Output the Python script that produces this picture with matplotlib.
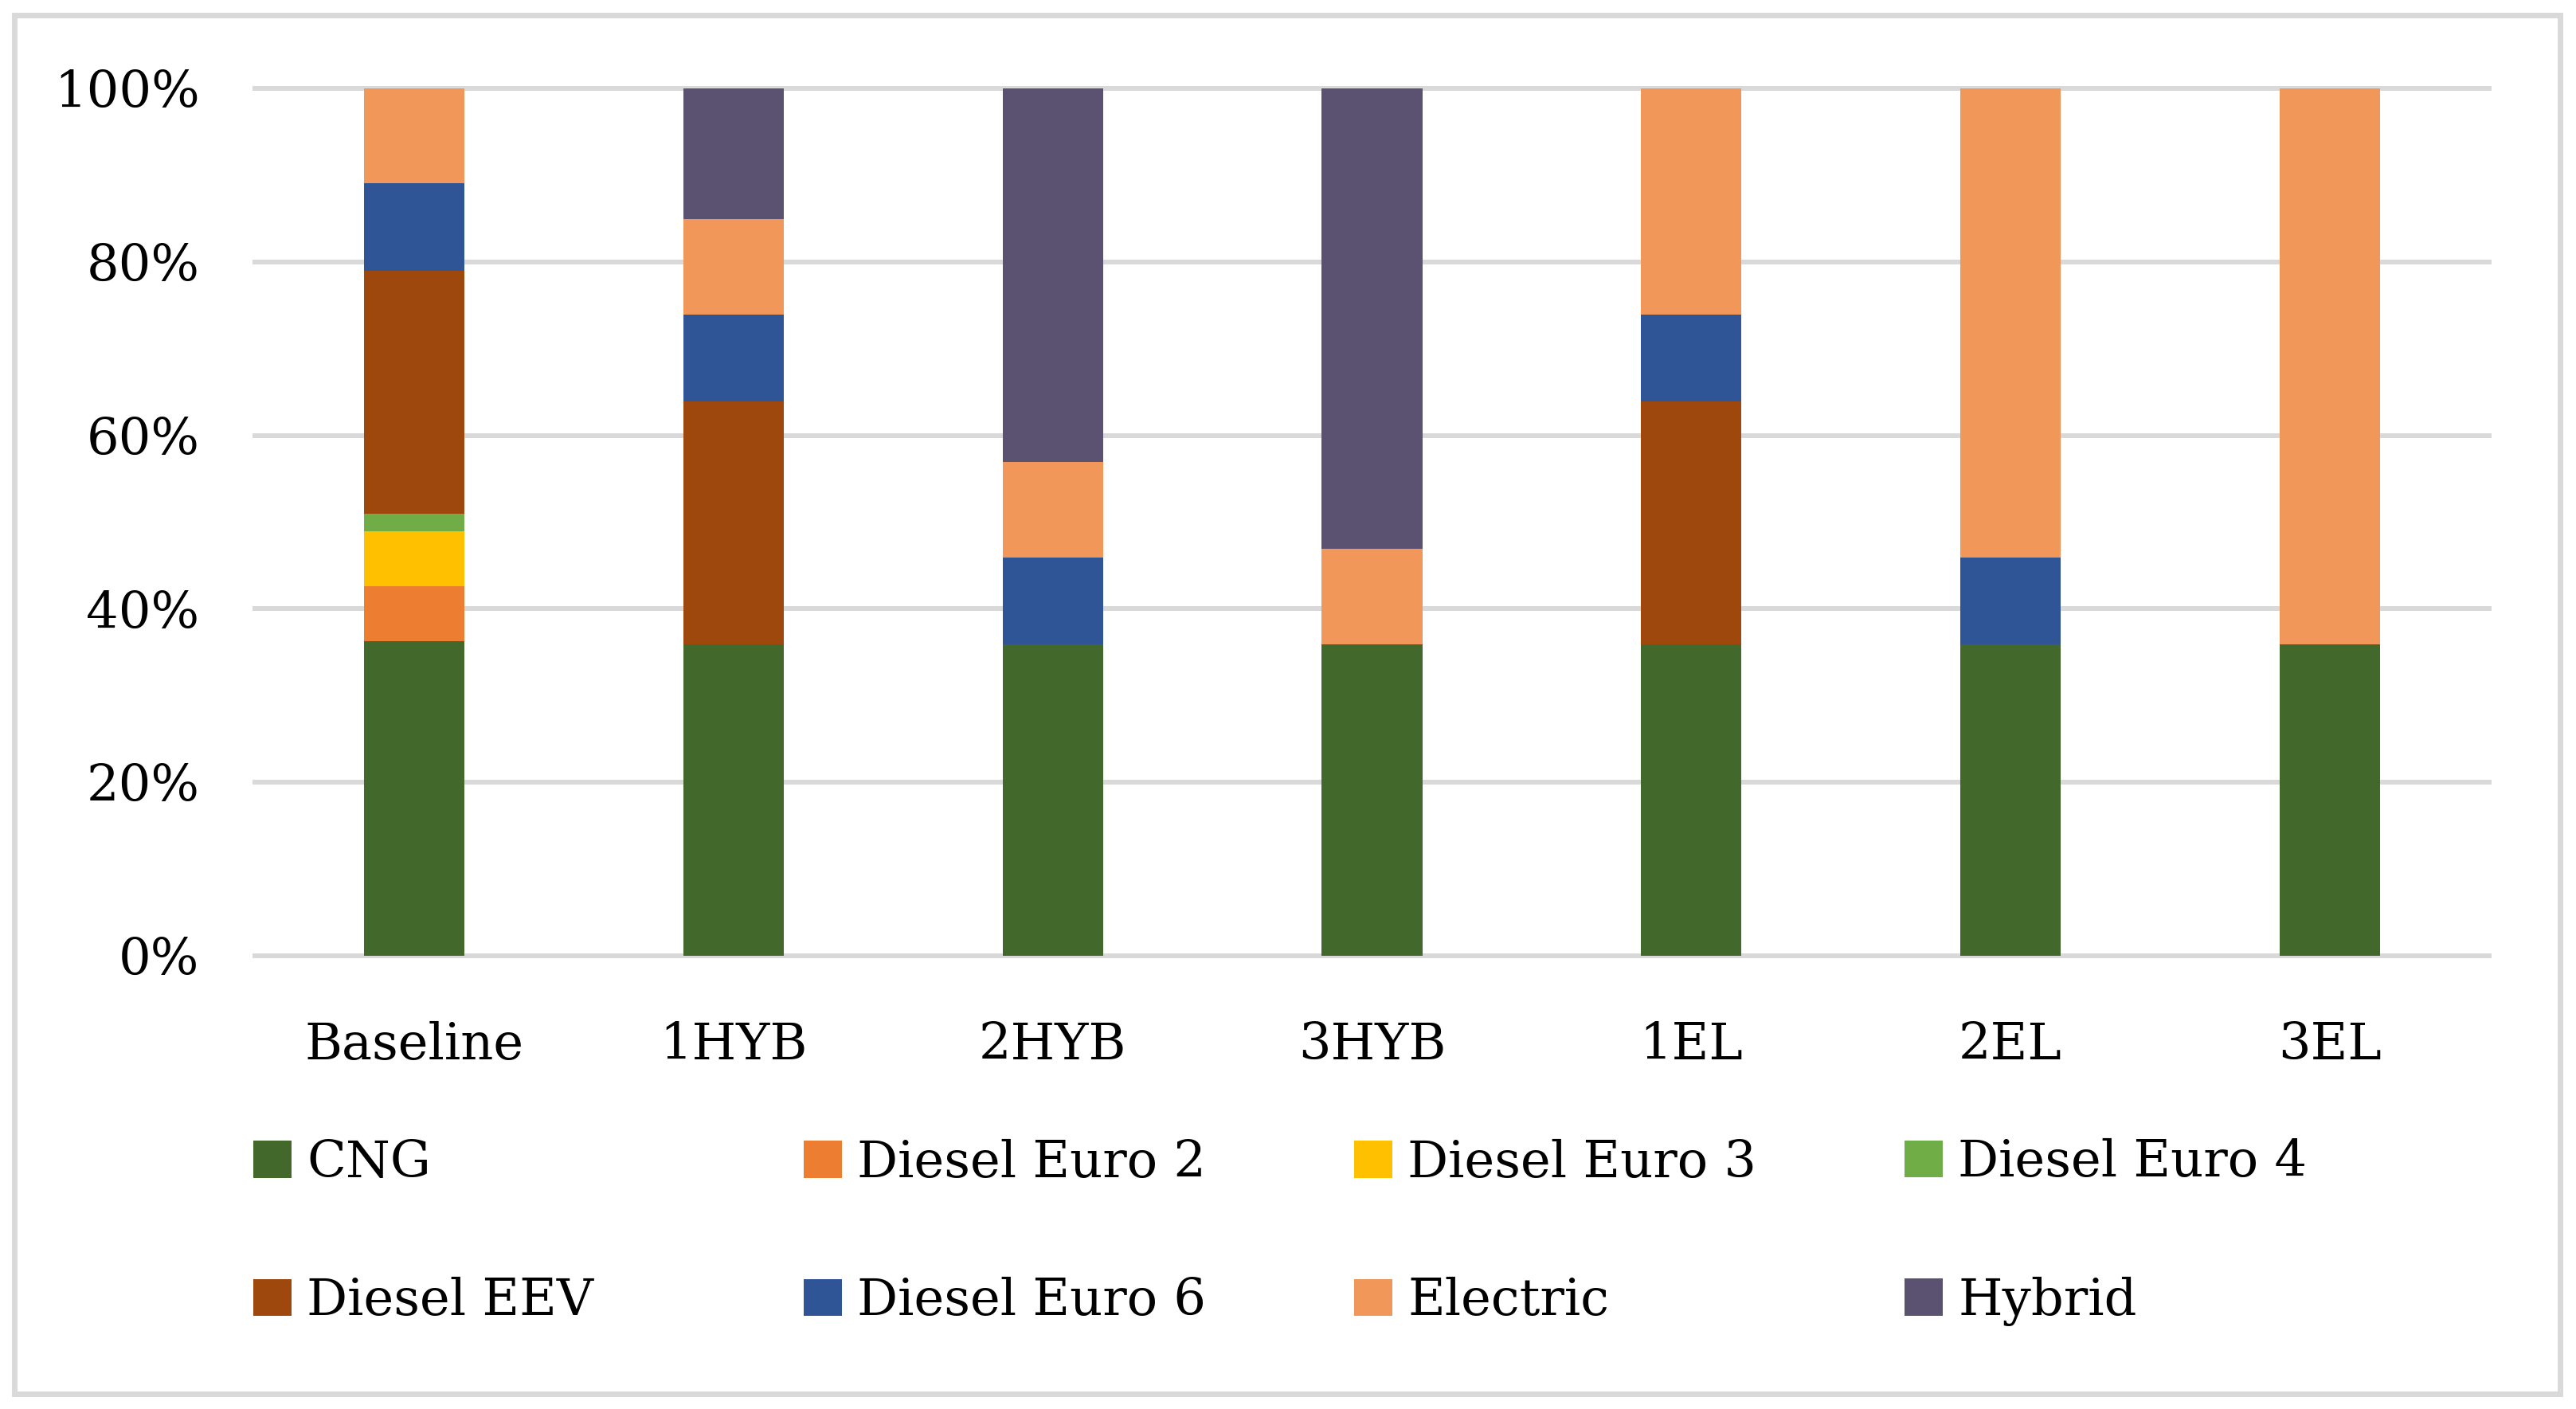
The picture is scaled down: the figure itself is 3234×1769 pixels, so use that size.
import matplotlib
matplotlib.use("Agg")
import matplotlib.pyplot as plt
from matplotlib.patches import Rectangle
import numpy as np

# Scenario labels
scenarios = ['Baseline', '1HYB', '2HYB', '3HYB', '1EL', '2EL', '3EL']

# Fleet share (%) by technology
cng = [36.3, 35.9, 35.9, 35.9, 35.9, 35.9, 35.9]
euro2 = [6.3, 0, 0, 0, 0, 0, 0]
euro3 = [6.3, 0, 0, 0, 0, 0, 0]
euro4 = [2.1, 0, 0, 0, 0, 0, 0]
eev = [28.0, 28.0, 0, 0, 28.0, 0, 0]
euro6 = [10.1, 10.0, 10.0, 0, 10.0, 10.0, 0]
electric = [10.9, 11.0, 11.0, 11.0, 26.1, 54.1, 64.1]
hybrid = [0, 15.2, 43.1, 53.2, 0, 0, 0]

series = [
    ('CNG', cng, '#43682B'),
    ('Diesel Euro 2', euro2, '#ED7D31'),
    ('Diesel Euro 3', euro3, '#FFC000'),
    ('Diesel Euro 4', euro4, '#70AD47'),
    ('Diesel EEV', eev, '#9E480E'),
    ('Diesel Euro 6', euro6, '#2F5597'),
    ('Electric', electric, '#F1975A'),
    ('Hybrid', hybrid, '#5B5170'),
]

plt.rcParams['font.family'] = ['DejaVu Serif']
FS = 46

W, H = 3234, 1769
fig = plt.figure(figsize=(W / 100, H / 100), dpi=100)
ax = fig.add_axes([320 / W, 1 - 1200 / H, (3125 - 320) / W, (1200 - 111) / H])

x = np.arange(len(scenarios))
bottom = np.zeros(len(scenarios))
handles = []
for name, vals, color in series:
    vals = np.array(vals, dtype=float)
    bars = ax.bar(x, vals, 0.315, bottom=bottom, color=color, label=name, zorder=3)
    handles.append(bars)
    bottom += vals

ax.set_xlim(-0.5, len(scenarios) - 0.5)
ax.set_ylim(0, 100)
ax.set_yticks(range(0, 101, 20))
ax.set_yticklabels([f'{v}%' for v in range(0, 101, 20)])
ax.set_xticks(x)
ax.set_xticklabels(scenarios)
ax.tick_params(axis='both', length=0, labelsize=FS, colors='black')
ax.tick_params(axis='y', pad=50)
ax.tick_params(axis='x', pad=59)
ax.grid(axis='y', color='#D9D9D9', linewidth=4.3, zorder=0)
ax.set_axisbelow(True)
for s in ax.spines.values():
    s.set_visible(False)
for gl in ax.get_ygridlines():
    gl.set_clip_on(False)

# legend: 4 equal-width columns, 2 rows, filled row by row
col_left = 318
col_step = 691
for j in range(4):
    fig.legend(handles=[handles[j], handles[j + 4]], loc='center left',
               bbox_to_anchor=((col_left + j * col_step) / W, 1 - 1547 / H),
               frameon=False, fontsize=FS, handlelength=0.75, handleheight=0.75,
               handletextpad=0.3, labelspacing=1.76, borderpad=0, borderaxespad=0)

# light frame round the whole chart
fig.add_artist(Rectangle((18 / W, 1 - 1750 / H), (3214 - 18) / W, (1750 - 19) / H,
                         transform=fig.transFigure, fill=False,
                         edgecolor='#D9D9D9', linewidth=5))

fig.savefig('out.png', dpi=100)
